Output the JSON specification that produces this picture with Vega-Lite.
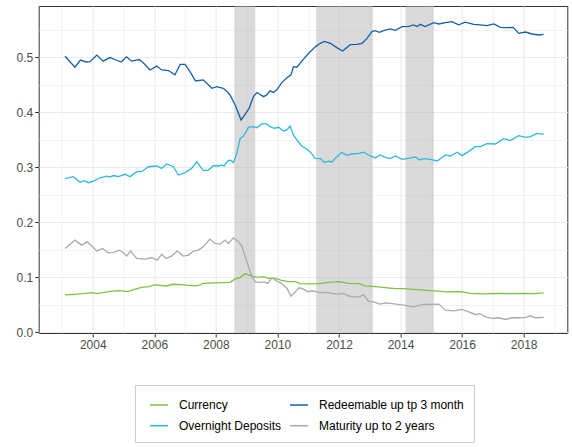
{
  "$schema": "https://vega.github.io/schema/vega-lite/v6.json",
  "width": 528.6,
  "height": 327,
  "autosize": "none",
  "padding": {"left": 38.7, "top": 6, "right": 4.7, "bottom": 114},
  "background": "white",
  "config": {
    "font": "Liberation Sans",
    "view": {"stroke": "#333333", "strokeWidth": 1},
    "axis": {
      "domain": false,
      "tickColor": "#333333",
      "tickSize": 4,
      "labelPadding": 2,
      "labelFont": "Liberation Sans",
      "labelFontSize": 12,
      "labelColor": "#4d4d4d",
      "gridColor": "#ebebeb",
      "title": null
    },
    "legend": {
      "labelFont": "Liberation Sans",
      "labelFontSize": 12,
      "labelColor": "#000000",
      "symbolType": "stroke",
      "symbolSize": 324,
      "symbolStrokeWidth": 1.5,
      "symbolOffset": 4,
      "labelOffset": 10,
      "padding": 10,
      "rowPadding": 4.7,
      "columnPadding": 3,
      "strokeColor": "#cccccc",
      "fillColor": "white"
    }
  },
  "datasets": {
    "bands": [
      {"start": 2008.6, "end": 2009.28},
      {"start": 2011.26, "end": 2013.1},
      {"start": 2014.16, "end": 2015.08}
    ],
    "currency": [
      {"t":2003.10,"v":0.0679},{"t":2003.42,"v":0.0691},{"t":2003.69,"v":0.0703},{"t":2003.96,"v":0.0721},
      {"t":2004.13,"v":0.0703},{"t":2004.34,"v":0.0721},{"t":2004.56,"v":0.0745},{"t":2004.83,"v":0.0758},
      {"t":2005.16,"v":0.0739},{"t":2005.32,"v":0.0776},{"t":2005.59,"v":0.0818},{"t":2005.81,"v":0.083},
      {"t":2006.02,"v":0.0861},{"t":2006.40,"v":0.0842},{"t":2006.62,"v":0.0873},{"t":2006.89,"v":0.0867},
      {"t":2007.21,"v":0.0848},{"t":2007.43,"v":0.0848},{"t":2007.59,"v":0.0891},{"t":2007.97,"v":0.0897},
      {"t":2008.24,"v":0.0903},{"t":2008.46,"v":0.0909},{"t":2008.63,"v":0.097},{"t":2008.79,"v":0.0994},
      {"t":2008.95,"v":0.1067},{"t":2009.06,"v":0.1042},{"t":2009.22,"v":0.1012},{"t":2009.38,"v":0.1},
      {"t":2009.55,"v":0.1012},{"t":2009.71,"v":0.0982},{"t":2009.93,"v":0.0982},{"t":2010.14,"v":0.0945},
      {"t":2010.36,"v":0.0921},{"t":2010.58,"v":0.0921},{"t":2010.74,"v":0.0885},{"t":2011.01,"v":0.0879},
      {"t":2011.34,"v":0.0885},{"t":2011.66,"v":0.0909},{"t":2011.99,"v":0.0921},{"t":2012.31,"v":0.0891},
      {"t":2012.64,"v":0.0885},{"t":2012.85,"v":0.0842},{"t":2013.18,"v":0.083},{"t":2013.50,"v":0.0812},
      {"t":2013.83,"v":0.0794},{"t":2014.10,"v":0.0794},{"t":2014.54,"v":0.0776},{"t":2015.08,"v":0.0752},
      {"t":2015.51,"v":0.0733},{"t":2015.95,"v":0.0739},{"t":2016.27,"v":0.0709},{"t":2016.70,"v":0.0697},
      {"t":2017.14,"v":0.0709},{"t":2017.57,"v":0.0703},{"t":2018.00,"v":0.0709},{"t":2018.33,"v":0.0703},
      {"t":2018.65,"v":0.0715}
    ],
    "overnight": [
      {"t":2003.10,"v":0.2794},{"t":2003.37,"v":0.283},{"t":2003.59,"v":0.2727},{"t":2003.72,"v":0.2758},
      {"t":2003.86,"v":0.272},{"t":2004.02,"v":0.275},{"t":2004.24,"v":0.281},{"t":2004.45,"v":0.284},
      {"t":2004.56,"v":0.2824},{"t":2004.67,"v":0.285},{"t":2004.83,"v":0.283},{"t":2005.05,"v":0.2873},
      {"t":2005.21,"v":0.283},{"t":2005.43,"v":0.292},{"t":2005.59,"v":0.292},{"t":2005.81,"v":0.301},
      {"t":2006.08,"v":0.3024},{"t":2006.24,"v":0.298},{"t":2006.40,"v":0.306},{"t":2006.62,"v":0.301},
      {"t":2006.78,"v":0.286},{"t":2007.00,"v":0.2903},{"t":2007.21,"v":0.298},{"t":2007.38,"v":0.310},
      {"t":2007.59,"v":0.294},{"t":2007.76,"v":0.295},{"t":2007.92,"v":0.303},{"t":2008.08,"v":0.3024},
      {"t":2008.19,"v":0.304},{"t":2008.27,"v":0.3024},{"t":2008.40,"v":0.312},{"t":2008.48,"v":0.313},
      {"t":2008.57,"v":0.3085},{"t":2008.68,"v":0.3255},{"t":2008.79,"v":0.3527},{"t":2008.90,"v":0.357},
      {"t":2009.06,"v":0.3727},{"t":2009.22,"v":0.374},{"t":2009.33,"v":0.372},{"t":2009.49,"v":0.3788},
      {"t":2009.65,"v":0.3788},{"t":2009.76,"v":0.374},{"t":2009.90,"v":0.371},{"t":2010.04,"v":0.3727},
      {"t":2010.20,"v":0.366},{"t":2010.31,"v":0.368},{"t":2010.41,"v":0.375},{"t":2010.52,"v":0.3588},
      {"t":2010.63,"v":0.3497},{"t":2010.79,"v":0.3388},{"t":2010.96,"v":0.3327},{"t":2011.06,"v":0.3285},
      {"t":2011.23,"v":0.3164},{"t":2011.39,"v":0.3158},{"t":2011.53,"v":0.3085},{"t":2011.66,"v":0.311},
      {"t":2011.77,"v":0.3097},{"t":2011.93,"v":0.3194},{"t":2012.09,"v":0.3267},{"t":2012.26,"v":0.3218},
      {"t":2012.42,"v":0.3242},{"t":2012.64,"v":0.3255},{"t":2012.80,"v":0.3273},{"t":2012.96,"v":0.3224},
      {"t":2013.18,"v":0.317},{"t":2013.34,"v":0.3224},{"t":2013.50,"v":0.318},{"t":2013.67,"v":0.3158},
      {"t":2013.83,"v":0.3206},{"t":2014.05,"v":0.3145},{"t":2014.26,"v":0.3164},{"t":2014.48,"v":0.319},
      {"t":2014.62,"v":0.3133},{"t":2014.75,"v":0.3158},{"t":2014.97,"v":0.3145},{"t":2015.19,"v":0.3115},
      {"t":2015.46,"v":0.3224},{"t":2015.62,"v":0.3206},{"t":2015.84,"v":0.3273},{"t":2016.00,"v":0.3212},
      {"t":2016.21,"v":0.3285},{"t":2016.43,"v":0.3376},{"t":2016.59,"v":0.3376},{"t":2016.81,"v":0.343},
      {"t":2017.08,"v":0.3424},{"t":2017.35,"v":0.352},{"t":2017.57,"v":0.3485},{"t":2017.84,"v":0.3576},
      {"t":2018.06,"v":0.3545},{"t":2018.22,"v":0.3558},{"t":2018.44,"v":0.3618},{"t":2018.65,"v":0.36}
    ],
    "redeemable": [
      {"t":2003.10,"v":0.502},{"t":2003.42,"v":0.482},{"t":2003.60,"v":0.495},{"t":2003.78,"v":0.4915},
      {"t":2003.91,"v":0.492},{"t":2004.13,"v":0.504},{"t":2004.34,"v":0.493},{"t":2004.56,"v":0.4995},
      {"t":2004.72,"v":0.496},{"t":2004.92,"v":0.4915},{"t":2005.10,"v":0.501},{"t":2005.26,"v":0.493},
      {"t":2005.51,"v":0.496},{"t":2005.64,"v":0.490},{"t":2005.86,"v":0.477},{"t":2006.08,"v":0.484},
      {"t":2006.24,"v":0.477},{"t":2006.46,"v":0.476},{"t":2006.67,"v":0.468},{"t":2006.84,"v":0.487},
      {"t":2007.00,"v":0.487},{"t":2007.16,"v":0.474},{"t":2007.34,"v":0.457},{"t":2007.59,"v":0.459},
      {"t":2007.87,"v":0.4436},{"t":2008.03,"v":0.4465},{"t":2008.24,"v":0.4436},{"t":2008.36,"v":0.438},
      {"t":2008.46,"v":0.4315},{"t":2008.63,"v":0.413},{"t":2008.82,"v":0.386},{"t":2008.93,"v":0.395},
      {"t":2009.08,"v":0.407},{"t":2009.22,"v":0.4285},{"t":2009.33,"v":0.436},{"t":2009.55,"v":0.4285},
      {"t":2009.65,"v":0.4315},{"t":2009.76,"v":0.439},{"t":2009.87,"v":0.436},{"t":2009.98,"v":0.441},
      {"t":2010.14,"v":0.454},{"t":2010.31,"v":0.463},{"t":2010.44,"v":0.468},{"t":2010.52,"v":0.483},
      {"t":2010.63,"v":0.482},{"t":2010.82,"v":0.495},{"t":2011.01,"v":0.507},{"t":2011.23,"v":0.519},
      {"t":2011.39,"v":0.5255},{"t":2011.53,"v":0.529},{"t":2011.72,"v":0.5255},{"t":2011.93,"v":0.5176},
      {"t":2012.12,"v":0.5115},{"t":2012.37,"v":0.523},{"t":2012.58,"v":0.5236},{"t":2012.75,"v":0.5255},
      {"t":2012.91,"v":0.5345},{"t":2013.07,"v":0.5467},{"t":2013.18,"v":0.5485},{"t":2013.31,"v":0.5455},
      {"t":2013.45,"v":0.5485},{"t":2013.67,"v":0.5515},{"t":2013.83,"v":0.549},{"t":2014.05,"v":0.5558},
      {"t":2014.26,"v":0.5564},{"t":2014.43,"v":0.5588},{"t":2014.54,"v":0.556},{"t":2014.64,"v":0.560},
      {"t":2014.80,"v":0.556},{"t":2015.08,"v":0.563},{"t":2015.24,"v":0.5606},{"t":2015.46,"v":0.563},
      {"t":2015.67,"v":0.565},{"t":2015.89,"v":0.559},{"t":2016.10,"v":0.564},{"t":2016.38,"v":0.560},
      {"t":2016.59,"v":0.5588},{"t":2016.81,"v":0.5576},{"t":2017.03,"v":0.5606},{"t":2017.24,"v":0.5545},
      {"t":2017.46,"v":0.554},{"t":2017.66,"v":0.5545},{"t":2017.84,"v":0.5436},{"t":2018.06,"v":0.546},
      {"t":2018.27,"v":0.5424},{"t":2018.49,"v":0.5406},{"t":2018.65,"v":0.5418}
    ],
    "maturity": [
      {"t":2003.10,"v":0.1524},{"t":2003.26,"v":0.1597},{"t":2003.42,"v":0.1676},{"t":2003.64,"v":0.1585},
      {"t":2003.82,"v":0.1645},{"t":2003.96,"v":0.1573},{"t":2004.13,"v":0.148},{"t":2004.32,"v":0.1524},
      {"t":2004.50,"v":0.1445},{"t":2004.67,"v":0.145},{"t":2004.86,"v":0.1494},{"t":2004.99,"v":0.145},
      {"t":2005.10,"v":0.1385},{"t":2005.23,"v":0.1476},{"t":2005.43,"v":0.1342},{"t":2005.70,"v":0.133},
      {"t":2005.91,"v":0.1355},{"t":2006.10,"v":0.1312},{"t":2006.24,"v":0.142},{"t":2006.38,"v":0.1342},
      {"t":2006.56,"v":0.1385},{"t":2006.75,"v":0.1476},{"t":2006.94,"v":0.1385},{"t":2007.11,"v":0.1403},
      {"t":2007.27,"v":0.1476},{"t":2007.43,"v":0.1494},{"t":2007.59,"v":0.1555},{"t":2007.81,"v":0.1694},
      {"t":2007.97,"v":0.1615},{"t":2008.14,"v":0.1603},{"t":2008.30,"v":0.1676},{"t":2008.41,"v":0.1615},
      {"t":2008.57,"v":0.1718},{"t":2008.73,"v":0.1645},{"t":2008.84,"v":0.1573},{"t":2008.95,"v":0.1373},
      {"t":2009.06,"v":0.119},{"t":2009.17,"v":0.101},{"t":2009.28,"v":0.0918},{"t":2009.44,"v":0.0906},
      {"t":2009.58,"v":0.0918},{"t":2009.69,"v":0.0888},{"t":2009.82,"v":0.0991},{"t":2009.98,"v":0.093},
      {"t":2010.14,"v":0.0888},{"t":2010.31,"v":0.0797},{"t":2010.44,"v":0.0658},{"t":2010.58,"v":0.0736},
      {"t":2010.71,"v":0.0809},{"t":2010.85,"v":0.0785},{"t":2010.99,"v":0.0736},{"t":2011.12,"v":0.0755},
      {"t":2011.28,"v":0.0736},{"t":2011.44,"v":0.0718},{"t":2011.61,"v":0.0724},{"t":2011.77,"v":0.0706},
      {"t":2011.98,"v":0.0694},{"t":2012.15,"v":0.0706},{"t":2012.31,"v":0.0664},{"t":2012.47,"v":0.0645},
      {"t":2012.64,"v":0.0645},{"t":2012.80,"v":0.0676},{"t":2012.96,"v":0.0567},{"t":2013.12,"v":0.0555},
      {"t":2013.34,"v":0.0512},{"t":2013.50,"v":0.0536},{"t":2013.67,"v":0.0524},{"t":2013.85,"v":0.0512},
      {"t":2014.10,"v":0.0494},{"t":2014.43,"v":0.0464},{"t":2014.64,"v":0.0494},{"t":2014.86,"v":0.0512},
      {"t":2015.02,"v":0.0506},{"t":2015.24,"v":0.0512},{"t":2015.46,"v":0.0403},{"t":2015.73,"v":0.0391},
      {"t":2016.00,"v":0.0415},{"t":2016.21,"v":0.0373},{"t":2016.43,"v":0.0324},{"t":2016.59,"v":0.0336},
      {"t":2016.76,"v":0.0282},{"t":2016.97,"v":0.0252},{"t":2017.19,"v":0.0264},{"t":2017.40,"v":0.0233},
      {"t":2017.62,"v":0.0264},{"t":2017.90,"v":0.0264},{"t":2018.06,"v":0.027},{"t":2018.22,"v":0.030},
      {"t":2018.38,"v":0.0264},{"t":2018.65,"v":0.027}
    ]
  },
  "layer": [
    {
      "data": {"name": "bands"},
      "mark": {"type": "rect", "fill": "#b5b5b5", "fillOpacity": 0.5, "strokeWidth": 0},
      "encoding": {
        "x": {
          "field": "start",
          "type": "quantitative",
          "scale": {"domain": [2002.244, 2019.418], "nice": false, "zero": false},
          "axis": {
            "values": [2003,2004,2005,2006,2007,2008,2009,2010,2011,2012,2013,2014,2015,2016,2017,2018,2019],
            "labelExpr": "datum.value % 2 == 0 ? toString(datum.value) : ''",
            "tickOpacity": {"condition": {"test": "datum.value % 2 == 0", "value": 1}, "value": 0},
            "gridWidth": {"condition": {"test": "datum.value % 2 == 0", "value": 1.1}, "value": 0.6},
            "labelFlush": false,
            "labelOverlap": false
          }
        },
        "x2": {"field": "end"}
      }
    },
    {
      "layer": [
        {
          "data": {"name": "currency"},
          "mark": {"type": "line", "strokeWidth": 1.3},
          "encoding": {
            "color": {
              "datum": "Currency",
              "type": "nominal",
              "scale": {
                "domain": ["Currency", "Overnight Deposits", "Redeemable up tp 3 month", "Maturity up to 2 years"],
                "range": ["#7dc242", "#2dbadc", "#1560ad", "#aaaaaa"]
              },
              "legend": {"orient": "none", "legendX": 96.3, "legendY": 379, "columns": 2, "title": null}
            }
          }
        },
        {
          "data": {"name": "overnight"},
          "mark": {"type": "line", "strokeWidth": 1.3},
          "encoding": {"color": {"datum": "Overnight Deposits", "type": "nominal"}}
        },
        {
          "data": {"name": "redeemable"},
          "mark": {"type": "line", "strokeWidth": 1.3},
          "encoding": {"color": {"datum": "Redeemable up tp 3 month", "type": "nominal"}}
        },
        {
          "data": {"name": "maturity"},
          "mark": {"type": "line", "strokeWidth": 1.3},
          "encoding": {"color": {"datum": "Maturity up to 2 years", "type": "nominal"}}
        }
      ],
      "encoding": {
        "x": {
          "field": "t",
          "type": "quantitative",
          "scale": {"domain": [2002.244, 2019.418], "nice": false, "zero": false},
          "axis": {
            "values": [2003,2004,2005,2006,2007,2008,2009,2010,2011,2012,2013,2014,2015,2016,2017,2018,2019],
            "labelExpr": "datum.value % 2 == 0 ? toString(datum.value) : ''",
            "tickOpacity": {"condition": {"test": "datum.value % 2 == 0", "value": 1}, "value": 0},
            "gridWidth": {"condition": {"test": "datum.value % 2 == 0", "value": 1.1}, "value": 0.6},
            "labelFlush": false,
            "labelOverlap": false
          }
        },
        "y": {
          "field": "v",
          "type": "quantitative",
          "scale": {"domain": [-0.0013, 0.5933], "nice": false, "zero": false},
          "axis": {
            "values": [0,0.05,0.1,0.15,0.2,0.25,0.3,0.35,0.4,0.45,0.5,0.55],
            "labelExpr": "abs(datum.value*10 - round(datum.value*10)) < 0.001 ? format(datum.value, '.1f') : ''",
            "tickOpacity": {"condition": {"test": "abs(datum.value*10 - round(datum.value*10)) < 0.001", "value": 1}, "value": 0},
            "gridWidth": {"condition": {"test": "abs(datum.value*10 - round(datum.value*10)) < 0.001", "value": 1.1}, "value": 0.6},
            "labelFlush": false,
            "labelOverlap": false
          }
        }
      }
    }
  ]
}
